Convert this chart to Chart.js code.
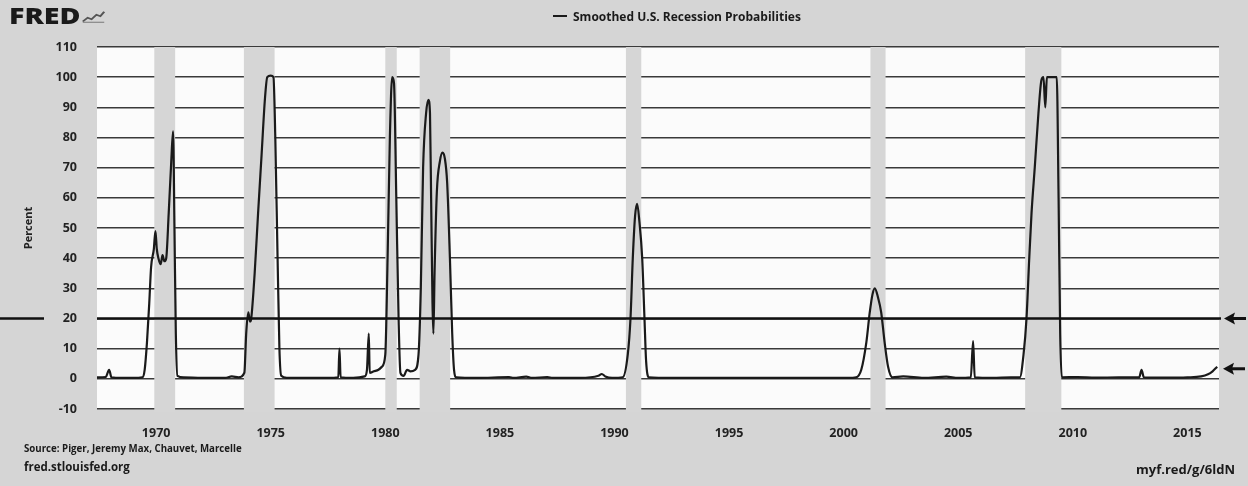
<!DOCTYPE html>
<html>
<head>
<meta charset="utf-8">
<script src="https://cdn.jsdelivr.net/npm/chart.js@4.4.1/dist/chart.umd.min.js"></script>
<style>
  body { margin: 0; background: #d5d5d5; }
  #wrap { position: relative; width: 1248px; height: 486px; overflow: hidden; background: #d5d5d5; font-family: "Open Sans", "DejaVu Sans", sans-serif; color: #1a1a1a; }
  canvas { position: absolute; left: 0; top: 0; }
  .txt { position: absolute; font-weight: 700; white-space: nowrap; }
  #logo { left: 9px; top: 0px; font-size: 22px; font-weight: 800; transform: scaleX(1.3); transform-origin: left center; }
  #logo svg { vertical-align: -1px; margin-left: 1px; }
  #legend { left: 553px; top: 8px; font-size: 12px; }
  #legend span { display: inline-block; width: 14px; height: 2px; background: #1a1a1a; vertical-align: 4px; margin-right: 6px; }
  #source { left: 24px; top: 442px; font-size: 9.7px; }
  #site { left: 24px; top: 459px; font-size: 11.5px; }
  #link { left: 1136px; top: 460px; font-size: 13px; }
</style>
</head>
<body>
<div id="wrap">
  <canvas id="chart" width="1248" height="486"></canvas>
  <div class="txt" id="logo">FRED<svg width="18" height="16" viewBox="0 0 24 16"><path d="M1 14 L6 9 L10 11 L15 5 L19 7 L23 1" stroke="#555" stroke-width="2.2" fill="none"/><path d="M1 15 L23 15" stroke="#777" stroke-width="1.5"/></svg></div>
  <div class="txt" id="legend"><span></span>Smoothed U.S. Recession Probabilities</div>
  <div class="txt" id="source">Source: Piger, Jeremy Max, Chauvet, Marcelle</div>
  <div class="txt" id="site">fred.stlouisfed.org</div>
  <div class="txt" id="link">myf.red/g/6ldN</div>
</div>
<script>
// Smoothed recession probabilities (percent)
const probDates = [
    1967.42, 1967.8, 1967.95, 1968.05, 1968.5, 1969.0, 1969.4, 1969.5, 1969.6, 1969.7,
    1969.78, 1969.9, 1969.97, 1970.03, 1970.1, 1970.2, 1970.28, 1970.36, 1970.44, 1970.55,
    1970.66, 1970.74, 1970.8, 1970.86, 1970.93, 1971.2, 1972.0, 1973.0, 1973.3, 1973.6,
    1973.85, 1973.93, 1974.02, 1974.1, 1974.15, 1974.3, 1974.45, 1974.6, 1974.75, 1974.85,
    1975.0, 1975.12, 1975.2, 1975.3, 1975.38, 1975.46, 1975.7, 1976.5, 1977.5, 1977.95,
    1978.0, 1978.05, 1978.6, 1979.1, 1979.2, 1979.28, 1979.32, 1979.5, 1979.7, 1979.85,
    1980.0, 1980.1, 1980.2, 1980.3, 1980.38, 1980.48, 1980.58, 1980.66, 1980.8, 1980.95,
    1981.1, 1981.3, 1981.45, 1981.55, 1981.65, 1981.78, 1981.88, 1981.95, 1982.0, 1982.06,
    1982.1, 1982.15, 1982.25, 1982.38, 1982.5, 1982.6, 1982.7, 1982.82, 1982.92, 1983.0,
    1983.1, 1984.0, 1985.4, 1985.6, 1986.15, 1986.4, 1987.07, 1987.3, 1988.5, 1989.3,
    1989.45, 1989.6, 1989.9, 1990.36, 1990.58, 1990.7, 1990.8, 1990.9, 1990.99, 1991.09,
    1991.21, 1991.31, 1991.38, 1991.5, 1992.5, 1995.0, 1998.0, 2000.2, 2000.55, 2000.77,
    2000.99, 2001.14, 2001.26, 2001.36, 2001.5, 2001.64, 2001.79, 2001.94, 2002.13, 2002.6,
    2003.5, 2004.48, 2005.0, 2005.55, 2005.65, 2005.72, 2006.5, 2007.3, 2007.69, 2007.85,
    2007.98, 2008.1, 2008.2, 2008.34, 2008.5, 2008.63, 2008.72, 2008.8, 2008.87, 2009.0,
    2009.15, 2009.3, 2009.38, 2009.45, 2009.52, 2010.2, 2011.0, 2012.0, 2012.9, 2013.0,
    2013.1, 2014.0, 2015.0, 2015.6, 2015.9, 2016.1, 2016.3
];
const probValues = [
    0.5, 0.6, 3, 0.5, 0.3, 0.3, 0.5, 3, 12, 25,
    37, 43, 49, 43, 40, 38, 41, 39, 40, 55,
    72, 82, 50, 15, 1, 0.5, 0.3, 0.3, 0.8, 0.5,
    2, 15, 22, 19, 20, 35, 55, 74, 93, 100,
    100.5, 100, 80, 40, 10, 1, 0.3, 0.3, 0.3, 0.5,
    10, 0.5, 0.3, 0.8, 3, 15, 2, 2.5, 3, 4,
    8, 40, 80, 100, 98, 60, 20, 2, 1, 3,
    2.5, 3, 8, 30, 70, 88, 92.5, 88, 60, 25,
    15, 35, 62, 72, 75, 73, 65, 40, 15, 3,
    0.5, 0.3, 0.6, 0.3, 0.7, 0.3, 0.6, 0.3, 0.3, 1,
    1.6, 0.8, 0.3, 0.5, 8, 20, 40, 54, 58, 52,
    40, 20, 6, 0.5, 0.3, 0.3, 0.3, 0.3, 0.5, 3,
    12, 22, 28, 30, 27, 22, 12, 4, 0.5, 0.8,
    0.3, 0.7, 0.3, 0.5, 12.5, 0.5, 0.3, 0.5, 0.5, 8,
    20, 40, 55, 70, 88, 99, 100, 90, 100, 100,
    100, 100, 60, 15, 0.5, 0.6, 0.4, 0.5, 0.5, 3,
    0.5, 0.4, 0.5, 0.8, 1.5, 2.5, 4
];

// NBER recession bands (start, end as decimal years)
const recessionStarts = [1969.92, 1973.83, 1980.0, 1981.5, 1990.5, 2001.17, 2007.92];
const recessionEnds   = [1970.83, 1975.17, 1980.5, 1982.83, 1991.17, 2001.83, 2009.5];

const yearTicks = [1970, 1975, 1980, 1985, 1990, 1995, 2000, 2005, 2010, 2015];
const xMin = 1967.42, xMax = 2016.38;
const markedLevel = 20; // hand-drawn thick line with arrow
const latestValue = probValues[probValues.length - 1];

const recessionShading = {
    id: 'recessionShading',
    beforeDatasetsDraw(chart) {
        const { ctx, chartArea, scales } = chart;
        ctx.save();
        ctx.fillStyle = '#d6d6d6';
        recessionStarts.forEach((start, i) => {
            const x1 = scales.x.getPixelForValue(start);
            const x2 = scales.x.getPixelForValue(recessionEnds[i]);
            ctx.fillRect(x1, chartArea.top, x2 - x1, chartArea.bottom - chartArea.top + 3);
        });
        ctx.restore();
    }
};

function drawArrow(ctx, x, y) {
    ctx.beginPath();
    ctx.moveTo(x, y);
    ctx.lineTo(x + 11, y - 6);
    ctx.lineTo(x + 9, y);
    ctx.lineTo(x + 11, y + 6);
    ctx.closePath();
    ctx.fill();
    ctx.fillRect(x + 8, y - 1.5, 14, 3);
}

const annotations = {
    id: 'annotations',
    afterDatasetsDraw(chart) {
        const { ctx, chartArea, scales } = chart;
        const y20 = scales.y.getPixelForValue(markedLevel);
        ctx.save();
        ctx.strokeStyle = '#111';
        ctx.lineWidth = 2.5;
        ctx.beginPath();
        ctx.moveTo(0, y20);
        ctx.lineTo(44, y20);
        ctx.moveTo(chartArea.left, y20);
        ctx.lineTo(chartArea.right + 2, y20);
        ctx.stroke();
        ctx.fillStyle = '#111';
        drawArrow(ctx, chartArea.right + 5, y20);
        drawArrow(ctx, chartArea.right + 4, scales.y.getPixelForValue(latestValue) + 2);
        ctx.restore();
    }
};

const plotBackground = {
    id: 'plotBackground',
    beforeDraw(chart) {
        const { ctx, chartArea } = chart;
        ctx.save();
        ctx.fillStyle = '#fbfbfb';
        ctx.fillRect(chartArea.left, chartArea.top, chartArea.right - chartArea.left, chartArea.bottom - chartArea.top);
        ctx.restore();
    }
};

const tickFont = { family: '"Open Sans", "DejaVu Sans", sans-serif', size: 12.5, weight: 'bold' };

new Chart(document.getElementById('chart').getContext('2d'), {
    type: 'line',
    data: {
        datasets: [{
            label: 'Smoothed U.S. Recession Probabilities',
            data: probDates.map((d, i) => ({ x: d, y: probValues[i] })),
            borderColor: '#1a1a1a',
            borderWidth: 2.2,
            pointRadius: 0,
            fill: false,
            cubicInterpolationMode: 'monotone'
        }]
    },
    options: {
        responsive: false,
        animation: false,
        layout: { padding: { top: 47, right: 29, left: 0, bottom: 0 } },
        plugins: {
            legend: { display: false },
            tooltip: { enabled: false }
        },
        scales: {
            x: {
                type: 'linear',
                min: xMin,
                max: xMax,
                afterBuildTicks: scale => { scale.ticks = yearTicks.map(v => ({ value: v })); },
                afterFit: scale => { scale.height = 77; },
                grid: { display: false },
                border: { display: false },
                ticks: {
                    color: '#222',
                    font: tickFont,
                    padding: 9,
                    maxRotation: 0,
                    callback: v => String(v)
                }
            },
            y: {
                min: -10,
                max: 110,
                afterFit: scale => { scale.width = 97; },
                grid: { color: '#3a3a3a', lineWidth: 1.4, drawTicks: false },
                border: { display: false },
                ticks: { stepSize: 10, color: '#222', font: tickFont, padding: 20 },
                title: {
                    display: true,
                    text: 'Percent',
                    color: '#222',
                    font: { family: '"Open Sans", "DejaVu Sans", sans-serif', size: 11, weight: 'bold' },
                    padding: { top: 22, bottom: 0 }
                }
            }
        }
    },
    plugins: [plotBackground, recessionShading, annotations]
});
</script>
</body>
</html>
